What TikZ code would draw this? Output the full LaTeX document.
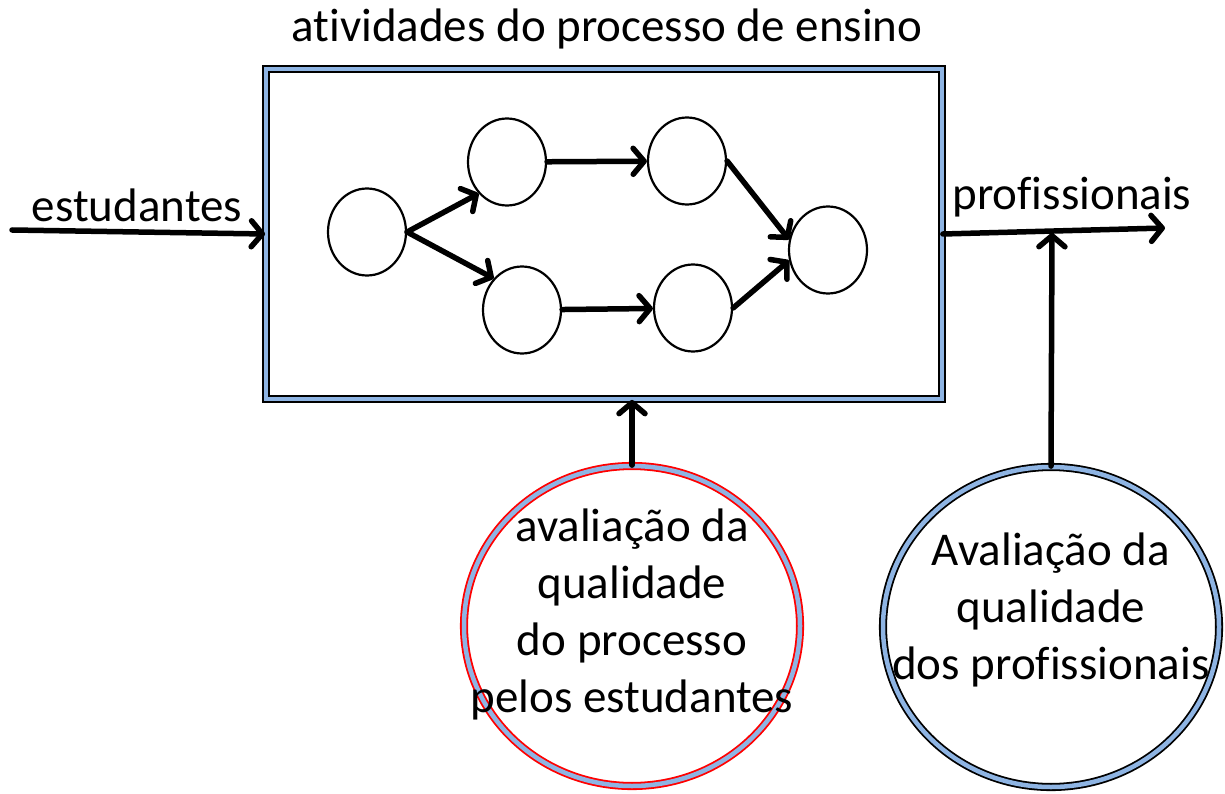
\documentclass[tikz,border=0pt]{standalone}
\usepackage{fontspec}
\setmainfont{Carlito}[Ligatures={NoCommon}]
\usepackage{tikz}
\usetikzlibrary{positioning,shapes.geometric,arrows.meta}
\definecolor{lblue}{HTML}{8EB4E3}
\tikzset{
  act_n/.style = {ellipse, draw=black, line width=2.2pt, fill=white,
    minimum width=78pt, minimum height=87pt, inner sep=0pt},
  aval_n/.style = {ellipse, draw=#1, line width=1.8pt, double=lblue,
    double distance=4.5pt, minimum width=336pt, minimum height=320pt, inner sep=0pt},
  proc_box/.style = {rectangle, draw=black, line width=1.8pt, double=lblue,
    double distance=3.5pt, minimum width=676pt, minimum height=330pt, inner sep=0pt},
  txt/.style = {font=\fontsize{47}{57}\selectfont, align=center, inner sep=0pt}
}

\begin{document}
\begin{tikzpicture}[x=1pt,y=-1pt,line width=5.5pt,line cap=round,
  >={Straight Barb[length=11pt,width=26pt,round]}]
\useasboundingbox (0,0) rectangle (1225,794);
% process box and its activities
\node [proc_box] (box) at (604,234) {};
\node [txt] (title) at (607,29) {atividades do processo de ensino};
\node [act_n] (a1) at (367,232) {};
\node [act_n] (a2) at (507,162) {};
\node [act_n] (a3) at (687,161) {};
\node [act_n] (a4) at (522,310) {};
\node [act_n] (a5) at (693,308) {};
\node [act_n] (a6) at (828,250) {};
\draw [->] (a1.east) -- (a2.south west);
\draw [->] (a1.east) -- (a4.north west);
\draw [->] (a2) -- (a3);
\draw [->] (a4) -- (a5);
\draw [->] (a3.east) -- (a6.165);
\draw [->] (a5.east) -- (a6.195);
% input and output
\coordinate (in_s) at (12,230);
\coordinate (out_e) at (1165,228);
\coordinate (oj) at (1052,233);
\node [txt] (est) at (137,205) {estudantes};
\node [txt] (prof) at (1072,197) {profissionais};
\draw [->] (in_s) -- (box.west);
\draw [->] (box.east) -- (out_e);
% evaluations
\node [aval_n=red] (ev1) at (632,626) {};
\node [txt] (ev1t) at (632,614) {avaliação da\\qualidade\\do processo\\pelos estudantes};
\node [aval_n=black] (ev2) at (1051,627) {};
\node [txt] (ev2t) at (1051,610) {Avaliação da\\qualidade\\dos profissionais};
\draw [->] (ev1.north) -- (ev1.north |- box.south);
\draw [->] (ev2.north) -- (oj);
\end{tikzpicture}
\end{document}
